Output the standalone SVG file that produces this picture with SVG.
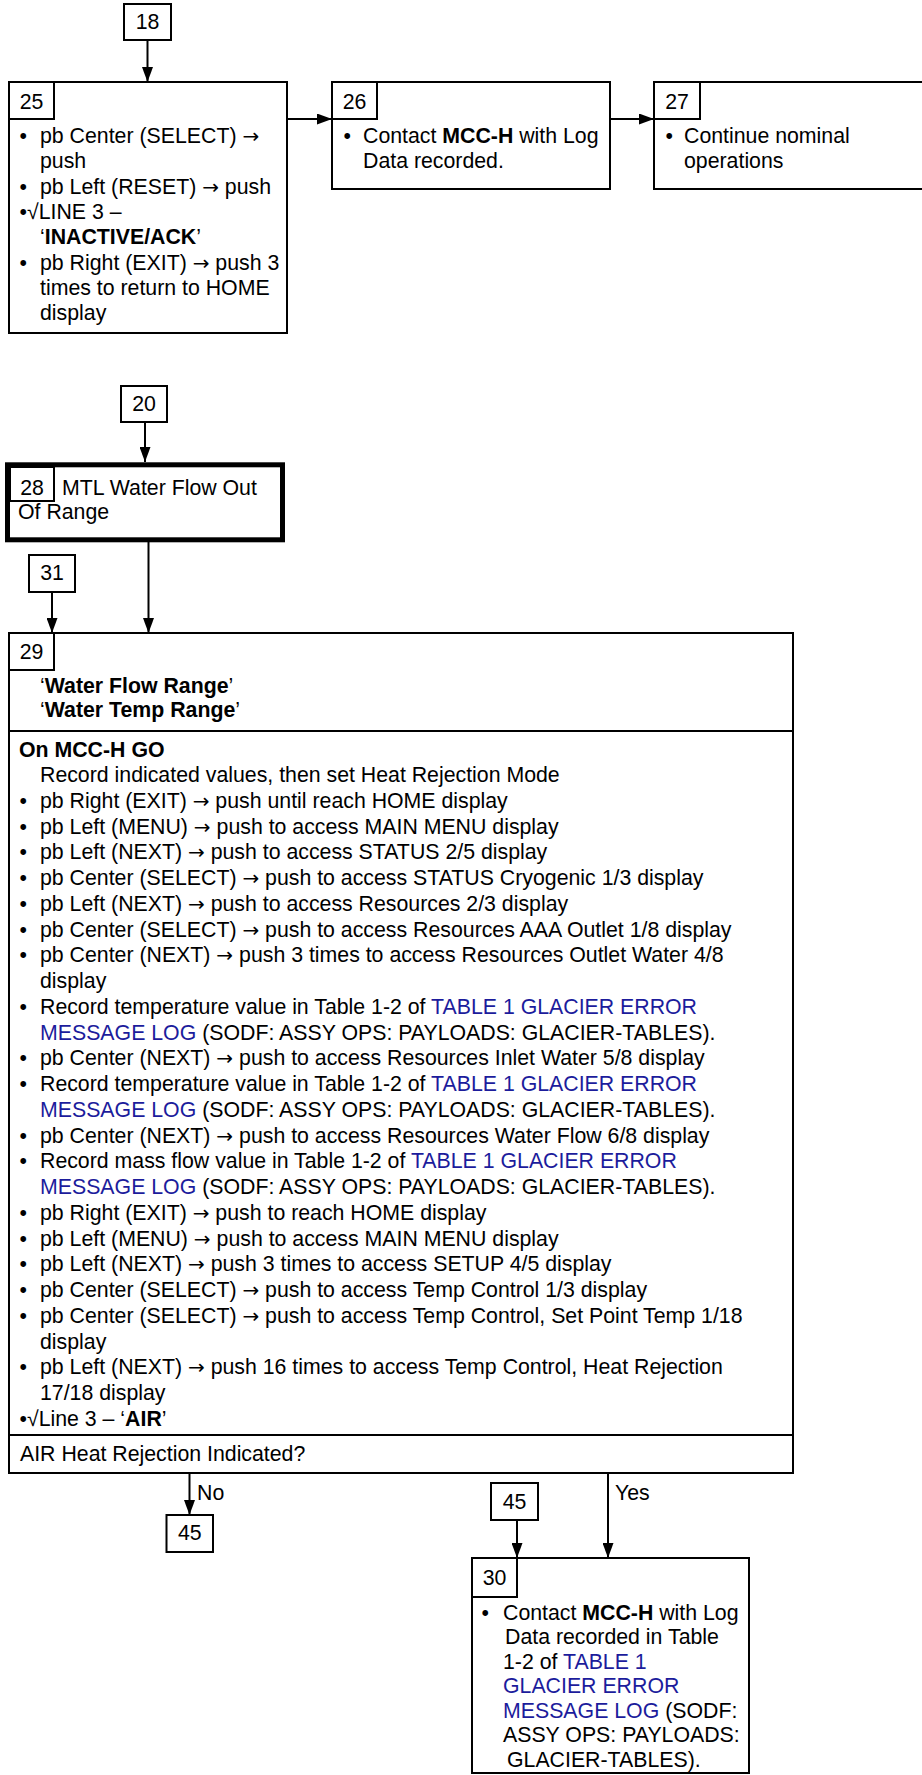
<svg xmlns="http://www.w3.org/2000/svg" width="922" height="1775" viewBox="0 0 922 1775">
<style>
text{font-family:"Liberation Sans",Arial,sans-serif;font-size:21.3px;fill:#000}
.c{text-anchor:middle}
.b{font-weight:bold}
.l{fill:#1C1C9C}
.a{font-family:"DejaVu Sans",sans-serif;font-size:20px}
.box{fill:#fff;stroke:#000;stroke-width:2}
.thick{fill:#fff;stroke:#000;stroke-width:5}
.ln{fill:none;stroke:#000;stroke-width:2}
</style>
<defs>
<marker id="ah" viewBox="0 0 15 11" refX="15" refY="5.5" markerWidth="15" markerHeight="11" markerUnits="userSpaceOnUse" orient="auto"><path d="M0,0 L15,5.5 L0,11 z" fill="#000"/></marker>
</defs>
<rect width="922" height="1775" fill="#fff"/>

<g id="connectors">
<line class="ln" x1="147.5" y1="40" x2="147.5" y2="82" marker-end="url(#ah)"/>
<line class="ln" x1="287" y1="119" x2="332" y2="119" marker-end="url(#ah)"/>
<line class="ln" x1="610" y1="119" x2="654" y2="119" marker-end="url(#ah)"/>
<line class="ln" x1="145" y1="422" x2="145" y2="462" marker-end="url(#ah)"/>
<line class="ln" x1="148.5" y1="542" x2="148.5" y2="633" marker-end="url(#ah)"/>
<line class="ln" x1="52" y1="592" x2="52" y2="633" marker-end="url(#ah)"/>
<line class="ln" x1="189.5" y1="1473" x2="189.5" y2="1515" marker-end="url(#ah)"/>
<line class="ln" x1="517" y1="1520" x2="517" y2="1558" marker-end="url(#ah)"/>
<line class="ln" x1="608" y1="1473" x2="608" y2="1558" marker-end="url(#ah)"/>
<text x="197" y="1500">No</text>
<text x="615" y="1500">Yes</text>
</g>

<g id="n18">
<rect class="box" x="124" y="4" width="47" height="36"/>
<text class="c" x="147.5" y="29">18</text>
</g>

<g id="n25">
<rect class="box" x="9" y="82" width="278" height="251"/>
<rect class="box" x="9" y="82" width="45" height="37"/>
<text class="c" x="31.5" y="109">25</text>
<text x="19.5" y="143">•</text><text x="40" y="143">pb Center (SELECT) <tspan class="a">→</tspan></text>
<text x="40" y="168">push</text>
<text x="19.5" y="193.5">•</text><text x="40" y="193.5">pb Left (RESET) <tspan class="a">→</tspan> push</text>
<text x="19.5" y="219">•√LINE 3 –</text>
<text x="40" y="244">‘<tspan class="b">INACTIVE/ACK</tspan>’</text>
<text x="19.5" y="269.5">•</text><text x="40" y="269.5">pb Right (EXIT) <tspan class="a">→</tspan> push 3</text>
<text x="40" y="295">times to return to HOME</text>
<text x="40" y="320">display</text>
</g>

<g id="n26">
<rect class="box" x="332" y="82" width="278" height="107"/>
<rect class="box" x="332" y="82" width="45" height="37"/>
<text class="c" x="354.5" y="109">26</text>
<text x="343.5" y="143">•</text><text x="363" y="143">Contact <tspan class="b">MCC-H</tspan> with Log</text>
<text x="363" y="168">Data recorded.</text>
</g>

<g id="n27">
<rect class="box" x="654" y="82" width="280" height="107"/>
<rect class="box" x="654" y="82" width="46" height="37"/>
<text class="c" x="677" y="109">27</text>
<text x="665.5" y="143">•</text><text x="684" y="143">Continue nominal</text>
<text x="684" y="168">operations</text>
</g>

<g id="n20">
<rect class="box" x="121" y="386" width="46" height="36"/>
<text class="c" x="144" y="411">20</text>
</g>

<g id="n28">
<rect class="thick" x="7.5" y="464.8" width="275" height="75"/>
<rect class="box" x="10" y="467" width="44" height="34"/>
<text class="c" x="32" y="495">28</text>
<text x="62" y="495">MTL Water Flow Out</text>
<text x="18" y="518.5">Of Range</text>
</g>

<g id="n31">
<rect class="box" x="29" y="555" width="46" height="37"/>
<text class="c" x="52" y="580">31</text>
</g>

<g id="n29">
<rect class="box" x="9" y="633" width="784" height="840"/>
<rect class="box" x="9" y="633" width="45" height="37"/>
<text class="c" x="31.5" y="659">29</text>
<text x="40" y="692.5">‘<tspan class="b">Water Flow Range</tspan>’</text>
<text x="40" y="717">‘<tspan class="b">Water Temp Range</tspan>’</text>
<line class="ln" x1="9" y1="731" x2="793" y2="731"/>
<text class="b" x="19" y="757">On MCC-H GO</text>
<text x="40" y="782">Record indicated values, then set Heat Rejection Mode</text>
<text x="19.5" y="807.75">•</text><text x="40" y="807.75">pb Right (EXIT) <tspan class="a">→</tspan> push until reach HOME display</text>
<text x="19.5" y="833.5">•</text><text x="40" y="833.5">pb Left (MENU) <tspan class="a">→</tspan> push to access MAIN MENU display</text>
<text x="19.5" y="859.25">•</text><text x="40" y="859.25">pb Left (NEXT) <tspan class="a">→</tspan> push to access STATUS 2/5 display</text>
<text x="19.5" y="885">•</text><text x="40" y="885">pb Center (SELECT) <tspan class="a">→</tspan> push to access STATUS Cryogenic 1/3 display</text>
<text x="19.5" y="910.75">•</text><text x="40" y="910.75">pb Left (NEXT) <tspan class="a">→</tspan> push to access Resources 2/3 display</text>
<text x="19.5" y="936.5">•</text><text x="40" y="936.5">pb Center (SELECT) <tspan class="a">→</tspan> push to access Resources AAA Outlet 1/8 display</text>
<text x="19.5" y="962.25">•</text><text x="40" y="962.25">pb Center (NEXT) <tspan class="a">→</tspan> push 3 times to access Resources Outlet Water 4/8</text>
<text x="40" y="988">display</text>
<text x="19.5" y="1013.75">•</text><text x="40" y="1013.75">Record temperature value in Table 1-2 of <tspan class="l">TABLE 1 GLACIER ERROR</tspan></text>
<text x="40" y="1039.5"><tspan class="l">MESSAGE LOG</tspan> (SODF: ASSY OPS: PAYLOADS: GLACIER-TABLES).</text>
<text x="19.5" y="1065.25">•</text><text x="40" y="1065.25">pb Center (NEXT) <tspan class="a">→</tspan> push to access Resources Inlet Water 5/8 display</text>
<text x="19.5" y="1091">•</text><text x="40" y="1091">Record temperature value in Table 1-2 of <tspan class="l">TABLE 1 GLACIER ERROR</tspan></text>
<text x="40" y="1116.75"><tspan class="l">MESSAGE LOG</tspan> (SODF: ASSY OPS: PAYLOADS: GLACIER-TABLES).</text>
<text x="19.5" y="1142.5">•</text><text x="40" y="1142.5">pb Center (NEXT) <tspan class="a">→</tspan> push to access Resources Water Flow 6/8 display</text>
<text x="19.5" y="1168.25">•</text><text x="40" y="1168.25">Record mass flow value in Table 1-2 of <tspan class="l">TABLE 1 GLACIER ERROR</tspan></text>
<text x="40" y="1194"><tspan class="l">MESSAGE LOG</tspan> (SODF: ASSY OPS: PAYLOADS: GLACIER-TABLES).</text>
<text x="19.5" y="1219.75">•</text><text x="40" y="1219.75">pb Right (EXIT) <tspan class="a">→</tspan> push to reach HOME display</text>
<text x="19.5" y="1245.5">•</text><text x="40" y="1245.5">pb Left (MENU) <tspan class="a">→</tspan> push to access MAIN MENU display</text>
<text x="19.5" y="1271.25">•</text><text x="40" y="1271.25">pb Left (NEXT) <tspan class="a">→</tspan> push 3 times to access SETUP 4/5 display</text>
<text x="19.5" y="1297">•</text><text x="40" y="1297">pb Center (SELECT) <tspan class="a">→</tspan> push to access Temp Control 1/3 display</text>
<text x="19.5" y="1322.75">•</text><text x="40" y="1322.75">pb Center (SELECT) <tspan class="a">→</tspan> push to access Temp Control, Set Point Temp 1/18</text>
<text x="40" y="1348.5">display</text>
<text x="19.5" y="1374.25">•</text><text x="40" y="1374.25">pb Left (NEXT) <tspan class="a">→</tspan> push 16 times to access Temp Control, Heat Rejection</text>
<text x="40" y="1400">17/18 display</text>
<text x="19.5" y="1425.75">•√Line 3 – ‘<tspan class="b">AIR</tspan>’</text>
<line class="ln" x1="9" y1="1435" x2="793" y2="1435"/>
<text x="20" y="1461">AIR Heat Rejection Indicated?</text>
</g>

<g id="n45a">
<rect class="box" x="166.5" y="1515" width="46.5" height="37"/>
<text class="c" x="189.75" y="1540">45</text>
</g>

<g id="n45b">
<rect class="box" x="491" y="1483" width="47" height="37"/>
<text class="c" x="514.5" y="1509">45</text>
</g>

<g id="n30">
<rect class="box" x="472" y="1558" width="277" height="215"/>
<rect class="box" x="472" y="1558" width="45" height="39"/>
<text class="c" x="494.5" y="1585">30</text>
<text x="481.5" y="1620">•</text><text x="503" y="1620">Contact <tspan class="b">MCC-H</tspan> with Log</text>
<text x="505" y="1644">Data recorded in Table</text>
<text x="503" y="1668.5">1-2 of <tspan class="l">TABLE 1</tspan></text>
<text x="503" y="1693"><tspan class="l">GLACIER ERROR</tspan></text>
<text x="503" y="1717.5"><tspan class="l">MESSAGE LOG</tspan> (SODF:</text>
<text x="503" y="1742">ASSY OPS: PAYLOADS:</text>
<text x="507" y="1766.5">GLACIER-TABLES).</text>
</g>
</svg>
